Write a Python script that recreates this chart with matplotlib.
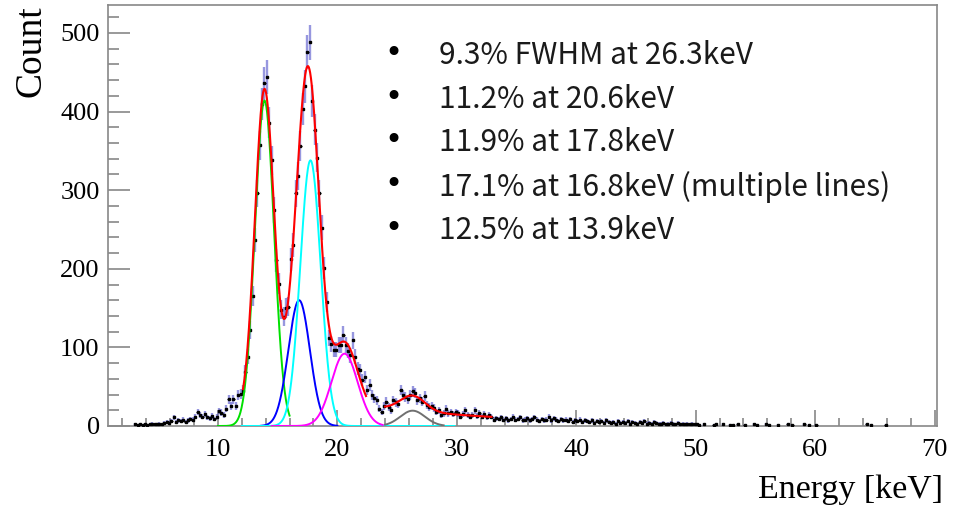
import numpy as np
import matplotlib
matplotlib.use("Agg")
import matplotlib.pyplot as plt
from matplotlib.ticker import MultipleLocator

# ---------------- histogram data (0.2 keV bins) ----------------
bin_width = 0.2
first_center = 3.1
counts = [
    2, 1, 2, 1, 2,          # 3.1 - 3.9
    1, 2, 3, 2, 2,          # 4
    3, 2, 4, 5, 4,          # 5
    6, 11, 5, 7, 6,         # 6
    8, 5, 7, 9, 8,          # 7
    12, 18, 14, 12, 15,     # 8
    11, 10, 13, 9, 12,      # 9
    19, 17, 14, 22, 34,     # 10
    25, 34, 25, 40, 41,     # 11
    45, 69, 88, 122, 165,   # 12
    237, 296, 357, 410, 436,  # 13
    444, 386, 338, 275, 211,  # 14
    181, 148, 139, 150, 152,  # 15
    212, 230, 296, 318, 356,  # 16
    403, 432, 476, 488, 413,  # 17
    377, 341, 296, 252, 201,  # 18
    158, 112, 104, 97, 97,    # 19
    103, 103, 116, 103, 96,   # 20
    90, 109, 88, 73, 71,      # 21
    58, 62, 46, 52, 40,       # 22
    35, 33, 22, 18, 25,       # 23
    31, 24, 20, 33, 30,       # 24
    28, 46, 39, 37, 34,       # 25
    40, 44, 42, 33, 35,       # 26
    31, 38, 27, 24, 26,       # 27
    23, 18, 20, 14, 16,       # 28
    22, 16, 18, 15, 18,       # 29
    16, 12, 15, 20, 14,       # 30
    12, 14, 20, 13, 16,       # 31
    12, 15, 11, 14, 12,       # 32
    8, 10, 9, 11, 8,          # 33
    10, 7, 9, 12, 8,          # 34
    9, 11, 7, 8, 10,          # 35
    7, 9, 11, 8, 6,           # 36
    9, 7, 8, 12, 7,           # 37
    10, 8, 6, 9, 7,           # 38
    8, 6, 9, 5, 7,            # 39
    6, 8, 5, 7, 6,            # 40
    5, 7, 4, 6, 5,            # 41
    6, 4, 7, 5, 4,            # 42
    5, 3, 6, 4, 5,            # 43
    4, 6, 3, 5, 4,            # 44
    3, 5, 4, 6, 3,            # 45
    4, 3, 5, 4, 3,            # 46
    3, 4, 2, 3, 4,            # 47
    3, 2, 4, 2, 3,            # 48
    2, 3, 2, 3, 2,            # 49
    2, 1, 0, 2, 0,            # 50
    0, 0, 1, 2, 0,            # 51
    0, 2, 0, 0, 1,            # 52
    1, 0, 2, 0, 0,            # 53
    1, 0, 0, 0, 2,            # 54
    1, 0, 0, 0, 2,            # 55
    1, 0, 0, 0, 1,            # 56
    0, 0, 0, 2, 0,            # 57
    1, 0, 0, 0, 0,            # 58
    2, 0, 1, 0, 0,            # 59
    1, 0, 0, 0, 0,            # 60
    0, 0, 0, 0, 0,            # 61
    0, 0, 0, 0, 0,            # 62
    0, 0, 0, 0, 0,            # 63
    0, 2, 0, 1, 0,            # 64
    0, 0, 0, 0, 1,            # 65
]

# ---------------- fitted peaks ----------------
peak_energy = [26.3, 20.6, 17.8, 16.8, 13.9]
peak_fwhm_pct = [9.3, 11.2, 11.9, 17.1, 12.5]

# individual Gaussian components: amplitude, mean, sigma, drawing range, colour
comp_amp = [414, 160, 338, 92, 19.5]
comp_mean = [13.9, 16.8, 17.75, 20.6, 26.3]
comp_sigma = [0.80, 0.90, 0.85, 1.10, 1.04]
comp_lo = [10.0, 13.6, 12.0, 14.5, 24.0]
comp_hi = [16.0, 20.0, 29.8, 23.8, 28.9]
comp_color = ["#00e000", "#0000ff", "#00ffff", "#ff00ff", "#707070"]

# total fit functions (two fit windows)
fit1_range = (12.1, 22.4)
fit1_components = [0, 1, 2, 3]
fit1_background = 14.0
fit2_range = (24.0, 32.9)
fit2_components = [4]
fit2_bkg_norm, fit2_bkg_slope = 23.0, 13.0


def gauss(x, a, m, s):
    return a * np.exp(-0.5 * ((x - m) / s) ** 2)


W, H = 959, 507
fig = plt.figure(figsize=(W / 100, H / 100), dpi=100)
ax = fig.add_axes([108 / W, (H - 426) / H, (937 - 108) / W, (426 - 5) / H])

counts_arr = np.array(counts, dtype=float)
centers = first_center + bin_width * np.arange(len(counts_arr))
mask = counts_arr > 0
x = centers[mask]
y = counts_arr[mask]

# error bars: vertical sqrt(N) in blue, horizontal bin width in black
ax.errorbar(x, y, yerr=np.sqrt(y), fmt="none", ecolor="#3030c0",
            elinewidth=1.7, alpha=0.5, capsize=0, zorder=3)
ax.errorbar(x, y, xerr=bin_width / 2, fmt="none", ecolor="black",
            elinewidth=0.8, capsize=0, zorder=4)
ax.plot(x, y, "s", color="black", ms=1.6, zorder=5)

# component curves
for i in range(len(comp_amp)):
    xx = np.linspace(comp_lo[i], comp_hi[i], 400)
    ax.plot(xx, gauss(xx, comp_amp[i], comp_mean[i], comp_sigma[i]),
            color=comp_color[i], lw=1.4, zorder=6)

# total fits
xx = np.linspace(*fit1_range, 600)
tot = np.full_like(xx, fit1_background)
for i in fit1_components:
    tot += gauss(xx, comp_amp[i], comp_mean[i], comp_sigma[i])
ax.plot(xx, tot, color="#ff0000", lw=1.5, zorder=7)

xx = np.linspace(*fit2_range, 400)
tot = fit2_bkg_norm * np.exp(-(xx - fit2_range[0]) / fit2_bkg_slope)
for i in fit2_components:
    tot += gauss(xx, comp_amp[i], comp_mean[i], comp_sigma[i])
ax.plot(xx, tot, color="#ff0000", lw=1.5, zorder=7)

# axes styling
ax.set_xlim(0.8, 70.2)
ax.set_ylim(0, 535.6)
ax.xaxis.set_major_locator(MultipleLocator(10))
ax.xaxis.set_minor_locator(MultipleLocator(2))
ax.yaxis.set_major_locator(MultipleLocator(100))
ax.yaxis.set_minor_locator(MultipleLocator(20))
for sp in ax.spines.values():
    sp.set_color("#888888")
    sp.set_linewidth(1.2)
ax.tick_params(which="both", direction="in", colors="#888888",
               labelcolor="black", width=1.2, top=False, right=False)
ax.tick_params(axis="y", which="major", length=16, pad=6)
ax.tick_params(axis="y", which="minor", length=8)
ax.tick_params(axis="x", which="major", length=11.5, pad=9)
ax.tick_params(axis="x", which="minor", length=5.5)
serif = "Liberation Serif"
for lab in ax.get_xticklabels() + ax.get_yticklabels():
    lab.set_fontfamily(serif)
    lab.set_fontsize(19)

fig.text(31 / W, 1 - 51 / H, "Count", rotation=90, ha="center", va="center",
         fontfamily=serif, fontsize=27)
fig.text(943 / W, 1 - 490 / H, "Energy [keV]", ha="right", va="center",
         fontfamily=serif, fontsize=24.5)

# result summary
lines = []
for k, (e, p) in enumerate(zip(peak_energy, peak_fwhm_pct)):
    if k == 0:
        lines.append(f"{p:.1f}% FWHM at {e:.1f}keV")
    elif k == 3:
        lines.append(f"{p:.1f}% at {e:.1f}keV (multiple lines)")
    else:
        lines.append(f"{p:.1f}% at {e:.1f}keV")
sans = ["Noto Sans CJK SC", "DejaVu Sans"]
for k, t in enumerate(lines):
    yc = 53.5 + 43.7 * k
    fig.text(393 / W, 1 - yc / H, "\u2022", ha="center", va="center",
             fontfamily="DejaVu Sans", fontsize=22, color="black")
    fig.text(439 / W, 1 - (yc + 2) / H, t, ha="left", va="center",
             fontfamily=sans, fontweight="light", fontsize=21.5,
             color="#1a1a1a")

fig.savefig("out.png", dpi=100)
